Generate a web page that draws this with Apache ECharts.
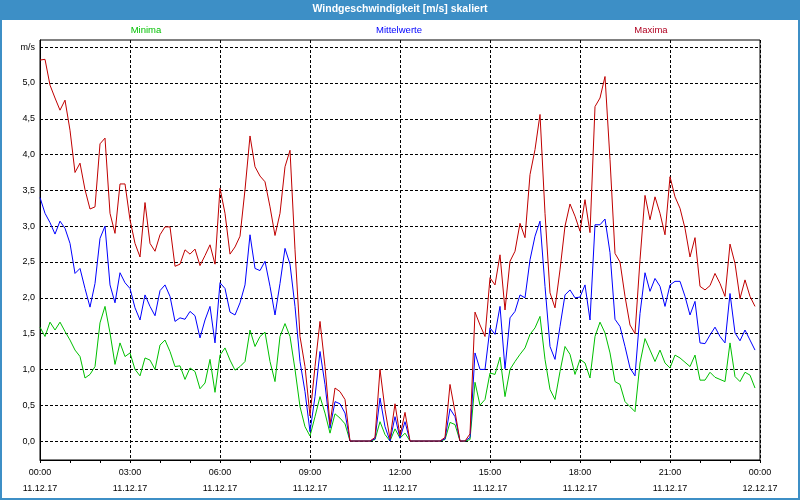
<!DOCTYPE html>
<html>
<head>
<meta charset="utf-8">
<script src="https://cdn.jsdelivr.net/npm/echarts@6/dist/echarts.min.js"></script>
<style>
html,body{margin:0;padding:0;background:#fff;}
#chart{width:800px;height:500px;}
</style>
</head>
<body>
<div id="chart"></div>
<script>
// ---- data (10-minute samples, 11.12.17 00:00 .. 23:50) ----
const titleText = 'Windgeschwindigkeit [m/s] skaliert';
const seriesNames = ['Minima', 'Mittelwerte', 'Maxima'];
const stepMinutes = 10;

const minima = [
 1.59,1.46,1.66,1.55,1.66,1.53,1.41,1.27,1.18,0.88,0.93,1.04,1.65,1.88,1.51,1.07,1.37,1.18,1.23,1.00,
 0.91,1.16,1.13,1.00,1.34,1.41,1.25,1.04,1.05,0.86,1.02,0.97,0.73,0.81,1.14,0.68,1.20,1.30,1.13,0.99,
 1.04,1.11,1.55,1.32,1.46,1.52,1.11,0.83,1.46,1.64,1.46,1.00,0.48,0.20,0.07,0.34,0.62,0.39,0.11,0.38,
 0.32,0.24,0,0,0,0,0,0.02,0.27,0.09,0,0.17,0.04,0.11,0,0,0,0,0,0,
 0,0.02,0.26,0.23,0,0,0.02,0.82,0.50,0.58,0.95,0.93,1.17,0.62,1.00,1.11,1.21,1.30,1.49,1.58,
 1.74,1.14,0.72,0.58,0.97,1.32,1.21,0.93,1.14,1.09,0.88,1.46,1.66,1.51,1.23,0.83,0.79,0.55,0.48,0.41,
 1.09,1.43,1.27,1.11,1.27,1.09,1.02,1.20,1.16,1.10,1.04,1.20,0.85,0.85,0.96,0.89,0.86,0.83,1.37,0.90,
 0.83,0.96,0.92,0.74
];
const mittelwerte = [
 3.40,3.18,3.05,2.89,3.07,2.97,2.76,2.34,2.41,2.13,1.87,2.20,2.83,3.00,2.18,1.93,2.35,2.21,2.13,1.86,
 1.69,2.04,1.88,1.75,2.10,2.18,2.02,1.67,1.72,1.70,1.81,1.75,1.44,1.69,1.88,1.37,2.21,2.13,1.80,1.76,
 1.93,2.18,2.88,2.41,2.38,2.51,2.16,1.76,2.20,2.69,2.47,1.88,1.11,0.69,0.13,0.62,1.25,0.79,0.18,0.55,
 0.52,0.39,0,0,0,0,0,0.03,0.60,0.20,0,0.34,0.04,0.27,0,0,0,0,0,0,
 0,0.03,0.45,0.34,0,0,0.05,1.23,1.00,1.00,1.58,1.49,1.88,1.01,1.72,1.81,2.04,2.00,2.53,2.86,
 3.07,2.16,1.32,1.14,1.60,2.04,2.11,2.00,2.01,2.18,1.69,3.02,3.02,3.10,2.63,1.70,1.60,1.32,1.02,0.91,
 1.78,2.35,2.09,2.27,2.16,1.88,2.18,2.23,2.23,2.02,1.76,1.95,1.37,1.36,1.48,1.59,1.46,1.37,2.06,1.51,
 1.40,1.55,1.41,1.27
];
const maxima = [
 5.32,5.33,4.97,4.79,4.62,4.76,4.34,3.75,3.88,3.51,3.24,3.27,4.15,4.23,3.18,2.90,3.59,3.59,3.09,2.76,
 2.57,3.33,2.76,2.65,2.88,2.99,2.99,2.44,2.47,2.67,2.61,2.68,2.45,2.59,2.74,2.47,3.53,3.18,2.61,2.71,
 2.86,3.51,4.26,3.83,3.70,3.62,3.27,2.87,3.18,3.83,4.06,2.67,1.46,1.04,0.35,1.04,1.67,1.04,0.23,0.74,
 0.69,0.58,0,0,0,0,0,0.05,1.00,0.44,0.03,0.52,0.07,0.40,0,0,0,0,0,0,
 0,0.05,0.79,0.41,0,0,0.10,1.80,1.62,1.46,2.28,2.18,2.60,1.83,2.51,2.65,3.04,2.84,3.72,4.07,
 4.56,3.18,2.07,1.86,2.39,3.00,3.31,3.14,2.93,3.37,2.91,4.67,4.79,5.09,3.93,2.62,2.50,2.02,1.62,1.50,
 2.53,3.43,3.09,3.41,3.18,2.88,3.69,3.41,3.25,2.97,2.57,2.84,2.16,2.11,2.17,2.34,2.20,2.02,2.75,2.48,
 1.99,2.25,2.02,1.88
];

const yTickValues = [0,0.5,1,1.5,2,2.5,3,3.5,4,4.5,5,5.5];
const yUnitLabel = 'm/s';
const xTimeLabels = ['00:00','03:00','06:00','09:00','12:00','15:00','18:00','21:00','00:00'];
const xDateLabels = ['11.12.17','11.12.17','11.12.17','11.12.17','11.12.17','11.12.17','11.12.17','11.12.17','12.12.17'];

// ---- chart ----
const FONT = 'Liberation Sans';
const seriesColors = ['#00c000', '#0000ff', '#c00000'];
const legendTextColors = ['#00c000', '#0000ff', '#b00020'];
const legendCenters = [146, 399, 651];
const legendFontSize = 9.5;

const ctx = document.createElement('canvas').getContext('2d');
ctx.font = legendFontSize + 'px "' + FONT + '"';

function toPairs(arr) { return arr.map((v, i) => [i * stepMinutes, v]); }

const chart = echarts.init(document.getElementById('chart'), null, {renderer: 'canvas'});

const legends = seriesNames.map((name, k) => {
  const w = ctx.measureText(name).width;
  return {
    data: [{name: name, textStyle: {color: legendTextColors[k]}}],
    left: legendCenters[k] - w / 2 - 5,
    top: 25,
    icon: 'none',
    itemWidth: 0,
    itemHeight: 0,
    padding: 0,
    selectedMode: false,
    textStyle: {fontFamily: FONT, fontSize: legendFontSize}
  };
});

const option = {
  animation: false,
  backgroundColor: '#ffffff',
  textStyle: {fontFamily: FONT},
  title: {
    text: titleText,
    left: 'center',
    top: 4,
    padding: [0, 0, 0, 12],
    textStyle: {color: '#ffffff', fontWeight: 'bold', fontSize: 10.5, fontFamily: FONT}
  },
  graphic: [
    {type: 'rect', z: -10, silent: true, shape: {x: 0, y: 0, width: 800, height: 20}, style: {fill: '#3d8fc6'}},
    {type: 'rect', z: 100, silent: true, shape: {x: 1, y: 1, width: 798, height: 498}, style: {fill: null, stroke: '#3d8fc6', lineWidth: 2}}
  ],
  legend: legends,
  grid: {
    left: 40, top: 40, width: 720, height: 420,
    show: true, borderColor: '#000', borderWidth: 1, backgroundColor: '#ffffff'
  },
  xAxis: {
    type: 'value',
    min: 0, max: 1440, interval: 180,
    axisLine: {show: true, onZero: false, lineStyle: {color: '#000', width: 1}},
    axisTick: {show: true, length: 3, lineStyle: {color: '#000'}},
    minorTick: {show: true, splitNumber: 3, length: 3, lineStyle: {color: '#000'}},
    axisLabel: {
      color: '#000', fontSize: 9, fontFamily: FONT, lineHeight: 16, margin: 5,
      showMinLabel: true, showMaxLabel: true,
      formatter: function (v) {
        const k = Math.round(v / 180);
        return xTimeLabels[k] + '\n' + xDateLabels[k];
      }
    },
    splitLine: {show: true, lineStyle: {color: '#000', width: 1, type: [3, 2]}}
  },
  yAxis: {
    type: 'value',
    min: -0.265, max: 5.6,
    axisLine: {show: true, lineStyle: {color: '#000', width: 1}},
    axisTick: {show: false, customValues: yTickValues},
    axisLabel: {
      customValues: yTickValues,
      color: '#000', fontSize: 9, fontFamily: FONT, margin: 5,
      formatter: function (v) {
        if (Math.abs(v - 5.5) < 1e-9) return yUnitLabel;
        return v.toFixed(1).replace('.', ',');
      }
    },
    splitLine: {show: true, lineStyle: {color: '#000', width: 1, type: [3, 2]}}
  },
  series: [
    {name: seriesNames[0], type: 'line', data: toPairs(minima), showSymbol: false, symbol: 'none',
     lineStyle: {color: seriesColors[0], width: 1}, itemStyle: {color: seriesColors[0]}},
    {name: seriesNames[1], type: 'line', data: toPairs(mittelwerte), showSymbol: false, symbol: 'none',
     lineStyle: {color: seriesColors[1], width: 1}, itemStyle: {color: seriesColors[1]}},
    {name: seriesNames[2], type: 'line', data: toPairs(maxima), showSymbol: false, symbol: 'none',
     lineStyle: {color: seriesColors[2], width: 1}, itemStyle: {color: seriesColors[2]}}
  ]
};
chart.setOption(option);
</script>
</body>
</html>
